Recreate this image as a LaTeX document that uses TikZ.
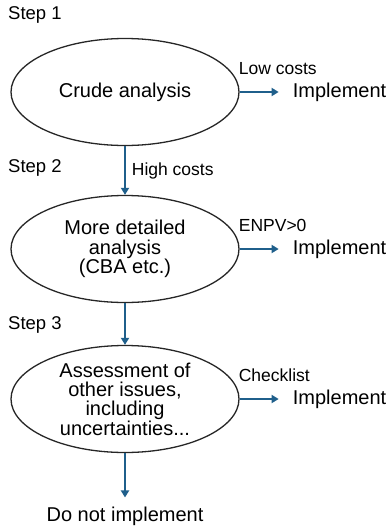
\documentclass[tikz,border=0pt]{standalone}
\usepackage{fontspec}
\setmainfont{Liberation Sans}
\usetikzlibrary{shapes.geometric,arrows.meta,positioning}
\definecolor{arrowblue}{HTML}{1F5F8B}
\definecolor{rimgrey}{HTML}{262626}
\begin{document}
\begin{tikzpicture}[x=1pt, y=-1pt,
		stage/.style={draw=rimgrey, line width=1.3pt, ellipse, minimum width=228pt,
			minimum height=107pt, inner sep=0pt, align=center,
			font=\fontsize{20}{19.4}\selectfont},
		impl/.style={font=\fontsize{20}{24}\selectfont, inner sep=3pt},
		cond/.style={font=\fontsize{17.5}{21}\selectfont, inner sep=2pt},
		steplbl/.style={font=\fontsize{18.5}{22}\selectfont, inner sep=2pt},
		arr/.style={draw=arrowblue, line width=1.8pt,
			-{Triangle[width=8pt,length=7pt]}, arrowblue}]
	% canvas
	\useasboundingbox (0,0) rectangle (391,528);
	% x of the ellipse centres
	\def\cx {125};
	% ellipses, one per step
	\foreach \y/\txt [count=\index] in {92/{Crude analysis},
			249/{More detailed\\analysis\\(CBA etc.)},
			399/{Assessment of\\other issues,\\including\\uncertainties...}}
	{
		\node[stage] (s\index) at (\cx,\y) {\txt};
	}
	% step labels
	\foreach \y [count=\index] in {15,168,325}
	{
		\node[steplbl, anchor=west] (st\index) at (6,\y) {Step \index};
	}
	% implement outcomes with their conditions
	\foreach \cond [count=\index] in {Low costs,ENPV>0,Checklist}
	{
		\node[impl, right=50pt of s\index.east] (i\index) {Implement};
		\node[cond, anchor=base west] (c\index) at ([xshift=-3pt, yshift=18pt]s\index.east) {\cond};
		\draw[arr, shorten >=11pt] (s\index) -- (i\index);
	}
	\node[impl] (no) at (\cx,516) {Do not implement};
	% edges
	\draw[arr] (s1) -- node[cond, right, xshift=4pt, text=black] (hc) {High costs} (s2);
	\draw[arr] (s2) -- (s3);
	\draw[arr, shorten >=6pt] (s3) -- (no);
\end{tikzpicture}
\end{document}
